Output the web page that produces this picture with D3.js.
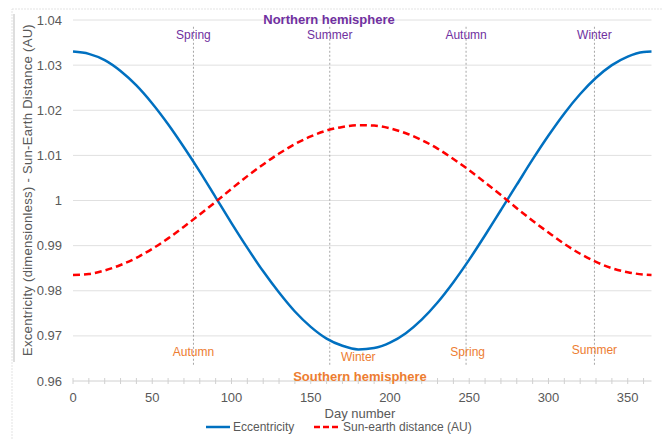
<!DOCTYPE html>
<html><head><meta charset="utf-8">
<script src="https://cdn.jsdelivr.net/npm/d3@7"></script>
<style>body{margin:0;background:#fff;}svg{display:block;font-family:"Liberation Sans",Arial,sans-serif;}</style>
</head><body>
<svg id="c" width="662" height="439"></svg>
<script>
const days = [0,10,20,30,40,50,60,70,80,90,100,110,120,130,140,150,160,170,180,190,200,210,220,230,240,250,260,270,280,290,300,310,320,330,340,350,360,365];
const eccentricity = [1.0330,1.0325,1.0311,1.0287,1.0255,1.0215,1.0169,1.0118,1.0064,1.0007,0.9950,0.9895,0.9843,0.9796,0.9754,0.9720,0.9694,0.9678,0.9670,0.9673,0.9685,0.9706,0.9736,0.9774,0.9819,0.9869,0.9923,0.9979,1.0035,1.0091,1.0144,1.0193,1.0236,1.0272,1.0300,1.0319,1.0329,1.0330];
const sunEarth = [0.9835,0.9837,0.9845,0.9857,0.9873,0.9893,0.9916,0.9942,0.9969,0.9997,1.0026,1.0054,1.0080,1.0104,1.0125,1.0142,1.0155,1.0163,1.0167,1.0166,1.0160,1.0149,1.0134,1.0115,1.0092,1.0067,1.0040,1.0012,0.9983,0.9955,0.9929,0.9904,0.9882,0.9864,0.9850,0.9841,0.9836,0.9835];
const seasonDays = [76,162,248,329];
const northLabels = ["Spring","Summer","Autumn","Winter"];
const southLabels = ["Autumn","Winter","Spring","Summer"];
const southLabelDays = [76,180,249,329];
const yTicks = [0.96,0.97,0.98,0.99,1,1.01,1.02,1.03,1.04];
const xTicks = [0,50,100,150,200,250,300,350];

const svg = d3.select("#c");
const x = d3.scaleLinear().domain([0,365]).range([73,651.5]);
const y = d3.scaleLinear().domain([0.96,1.04]).range([381,20]);
const grey = "#595959";

// faint outer frame
svg.append("rect").attr("x",12).attr("y",9).attr("width",660).attr("height",440)
  .attr("fill","none").attr("stroke","#e3e3e3").attr("stroke-dasharray","2,1");
svg.append("line").attr("x1",14).attr("x2",14).attr("y1",14).attr("y2",362).attr("stroke","#bdbdbd");

// gridlines
svg.append("g").selectAll("line").data(yTicks.slice(1)).join("line")
  .attr("x1",x(0)).attr("x2",x(365)).attr("y1",d=>y(d)).attr("y2",d=>y(d))
  .attr("stroke","#e0e0e0").attr("stroke-width",1);

// y tick labels
svg.append("g").selectAll("text").data(yTicks).join("text")
  .attr("x",62).attr("y",d=>y(d)).attr("dy","0.35em").attr("text-anchor","end")
  .attr("font-size",13).attr("fill",grey).text(d=>d3.format("")(+d.toFixed(2)));

// x axis
const xg = svg.append("g").attr("transform","translate(0,381)");
xg.append("line").attr("x1",x(0)).attr("x2",x(365)).attr("stroke","#d0d0d0");
xg.selectAll("line.t").data(d3.range(0,370,10)).join("line").attr("class","t")
  .attr("x1",d=>x(d)).attr("x2",d=>x(d)).attr("y1",-3).attr("y2",3).attr("stroke","#d0d0d0");
xg.selectAll("text").data(xTicks).join("text")
  .attr("x",d=>x(d)).attr("y",21).attr("text-anchor","middle")
  .attr("font-size",13).attr("fill",grey).text(d=>d);

// season dotted lines
svg.append("g").selectAll("line").data(seasonDays).join("line")
  .attr("x1",d=>x(d)).attr("x2",d=>x(d)).attr("y1",y(1.0385)).attr("y2",y(0.9632))
  .attr("stroke","#a6a6a6").attr("stroke-width",1).attr("stroke-dasharray","2,2");

// curves
const line = d3.line().x((d,i)=>x(days[i])).y(d=>y(d)).curve(d3.curveMonotoneX);
svg.append("path").datum(eccentricity).attr("d",line).attr("fill","none")
  .attr("stroke","#0070C0").attr("stroke-width",2.5);
svg.append("path").datum(sunEarth).attr("d",line).attr("fill","none")
  .attr("stroke","#FF0000").attr("stroke-width",2.5).attr("stroke-dasharray","7,4");

// hemisphere labels
svg.append("text").attr("x",329).attr("y",24).attr("text-anchor","middle")
  .attr("font-size",13).attr("font-weight","bold").attr("fill","#7030A0").text("Northern hemisphere");
svg.append("text").attr("x",360).attr("y",381).attr("text-anchor","middle")
  .attr("font-size",13).attr("font-weight","bold").attr("fill","#ED7D31").text("Southern hemisphere");

svg.append("g").selectAll("text").data(northLabels).join("text")
  .attr("x",(d,i)=>x(seasonDays[i])).attr("y",39).attr("text-anchor","middle")
  .attr("font-size",12).attr("fill","#7030A0").text(d=>d);
const southY = [356,361,356,354];
svg.append("g").selectAll("text").data(southLabels).join("text")
  .attr("x",(d,i)=>x(southLabelDays[i])).attr("y",(d,i)=>southY[i]).attr("text-anchor","middle")
  .attr("font-size",12).attr("fill","#ED7D31").text(d=>d);

// axis titles
svg.append("text").attr("transform","translate(32,190) rotate(-90)").attr("text-anchor","middle")
  .attr("font-size",13).attr("fill",grey).attr("letter-spacing","0.3").text("Excentricity (dimensionless) - Sun-Earth Distance (AU)");
svg.append("text").attr("x",360).attr("y",418).attr("text-anchor","middle")
  .attr("font-size",13).attr("fill",grey).text("Day number");

// legend
const lg = svg.append("g");
lg.append("line").attr("x1",206).attr("x2",230).attr("y1",427).attr("y2",427).attr("stroke","#0070C0").attr("stroke-width",2.5);
lg.append("text").attr("x",233).attr("y",431).attr("font-size",12).attr("fill",grey).text("Eccentricity");
lg.append("line").attr("x1",314).attr("x2",339).attr("y1",427).attr("y2",427).attr("stroke","#FF0000").attr("stroke-width",2.5).attr("stroke-dasharray","6,3");
lg.append("text").attr("x",343).attr("y",431).attr("font-size",12).attr("fill",grey).text("Sun-earth distance (AU)");
</script>
</body></html>
